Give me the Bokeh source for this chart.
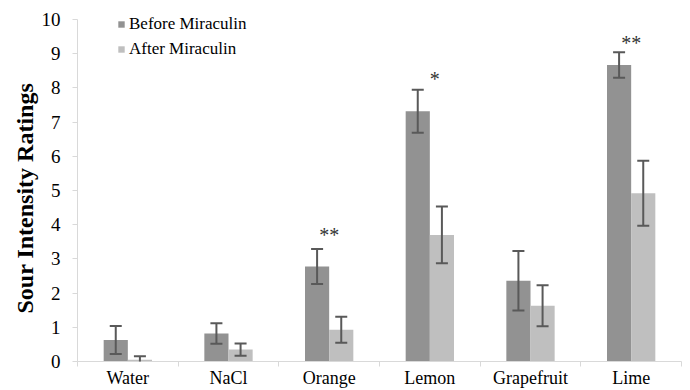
from bokeh.plotting import figure
from bokeh.models import (ColumnDataSource, Whisker, TeeHead, FixedTicker, Legend, LegendItem,
                          Range1d, LinearAxis, Title)
from bokeh.transform import dodge
from bokeh.core.properties import value
from bokeh.embed import file_html
from bokeh.resources import INLINE

categories = ["Water", "NaCl", "Orange", "Lemon", "Grapefruit", "Lime"]
before = [0.63, 0.82, 2.78, 7.32, 2.36, 8.67]
before_err = [0.41, 0.30, 0.51, 0.63, 0.87, 0.37]
after = [0.05, 0.35, 0.93, 3.70, 1.63, 4.92]
after_err = [0.10, 0.18, 0.38, 0.83, 0.60, 0.95]
stars = ["", "", "**", "*", "", "**"]
star_y = [0, 0, 3.69, 8.26, 0, 9.31]
star_dx = [0, 0, 0, 0.05, 0, 0]
y_ticks = list(range(0, 11))
y_max = 10
y_title = "Sour Intensity Ratings"

FONT = "Liberation Serif"
DARK = "#929292"
LIGHT = "#bfbfbf"
ERR = "#595959"
AXIS = "#d9d9d9"

xc = [i + 0.5 for i in range(len(categories))]
src = ColumnDataSource(dict(
    x=xc, before=before, after=after,
    b_lo=[v - e for v, e in zip(before, before_err)],
    b_hi=[v + e for v, e in zip(before, before_err)],
    a_lo=[v - e for v, e in zip(after, after_err)],
    a_hi=[v + e for v, e in zip(after, after_err)],
))

W, H = 690, 390
p = figure(width=W, height=H, output_backend="svg", toolbar_location=None,
           x_range=Range1d(0, len(categories)), y_range=Range1d(0, y_max + 0.44),
           min_border_left=77, min_border_right=9, min_border_top=4,
           min_border_bottom=29, x_axis_location=None, y_axis_location=None)
p.outline_line_color = None
p.xgrid.visible = False
p.ygrid.visible = False

rb = p.vbar(x=dodge("x", -0.12, range=p.x_range), top="before", width=0.24, source=src,
            fill_color=DARK, line_color=None)
ra = p.vbar(x=dodge("x", 0.12, range=p.x_range), top="after", width=0.24, source=src,
            fill_color=LIGHT, line_color=None)

for key, off in (("b", -0.12), ("a", 0.12)):
    w = Whisker(source=src, base=dodge("x", off, range=p.x_range), lower=key + "_lo", upper=key + "_hi",
                line_color=ERR, line_width=2, level="annotation",
                upper_head=TeeHead(size=12, line_color=ERR, line_width=2),
                lower_head=TeeHead(size=12, line_color=ERR, line_width=2))
    p.add_layout(w)

ssrc = ColumnDataSource(dict(x=[c + d for c, d in zip(xc, star_dx)], y=star_y, t=stars))
p.text(x="x", y="y", text="t", source=ssrc, text_align="center", text_baseline="alphabetic",
       text_font=value(FONT), text_font_size="20px", text_color="#333333")

yaxis = LinearAxis(ticker=FixedTicker(ticks=y_ticks), bounds=(0, y_max),
                   major_label_text_font=FONT, major_label_text_font_size="19px",
                   major_label_text_color="black", major_label_standoff=12,
                   axis_line_color=AXIS, major_tick_line_color=AXIS,
                   major_tick_out=5, major_tick_in=0, minor_tick_line_color=None)
p.add_layout(yaxis, "left")

ytitle = Title(text=y_title, align="left", offset=48, standoff=2,
               text_font=FONT, text_font_style="bold", text_font_size="24px",
               text_color="black")
p.add_layout(ytitle, "left")

xaxis = LinearAxis(ticker=FixedTicker(ticks=xc, minor_ticks=list(range(len(categories) + 1))),
                   major_label_overrides={c: n for c, n in zip(xc, categories)},
                   major_label_text_font=FONT, major_label_text_font_size="18px",
                   major_label_text_color="black", major_label_standoff=1,
                   axis_line_color=AXIS, major_tick_line_color=None,
                   major_tick_out=0, major_tick_in=0,
                   minor_tick_line_color=AXIS, minor_tick_out=5, minor_tick_in=0)
p.add_layout(xaxis, "below")

legend = Legend(items=[LegendItem(label="Before Miraculin", renderers=[rb]),
                       LegendItem(label="After Miraculin", renderers=[ra])],
                location=(40, 301), padding=0, margin=0, spacing=3,
                label_height=22, glyph_height=8, glyph_width=8, label_standoff=4,
                label_text_font=FONT, label_text_font_size="17px", label_text_color="black",
                border_line_color=None, background_fill_alpha=0)
p.add_layout(legend, "center")

open("out.html", "w").write(file_html(p, INLINE))
